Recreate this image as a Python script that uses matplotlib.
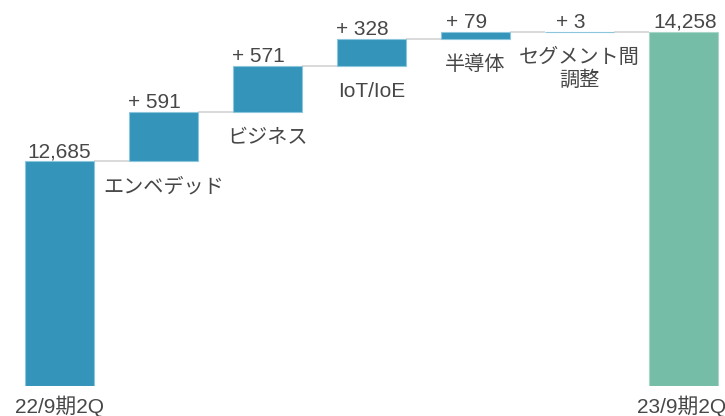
import matplotlib
matplotlib.use("Agg")
import matplotlib.pyplot as plt
from matplotlib.transforms import offset_copy

# Quarterly sales bridge (waterfall)
start_label = "22/9期2Q"
end_label = "23/9期2Q"
start_value = 12685
end_value = 14258
segments = ["エンベデッド", "ビジネス", "IoT/IoE", "半導体", "セグメント間\n調整"]
deltas = [591, 571, 328, 79, 3]

BLUE = "#3494ba"
BLUE_EDGE = "#8cc6dc"
GREEN = "#75bda7"
GREEN_EDGE = "#a8d6c8"
CONNECTOR = "#d9d9d9"
TEXT = "#474747"

LATIN = ["Liberation Sans", "Noto Sans CJK JP"]
CJK = ["Noto Sans CJK JP", "Liberation Sans"]

W, H, DPI = 725, 416, 100
fig = plt.figure(figsize=(W / DPI, H / DPI), dpi=DPI)
ax = fig.add_axes([0, 30 / H, 1, 386 / H])

floor = 9948
px_per_unit = 0.0822
ax.set_xlim(-0.572, 6.399)
ax.set_ylim(floor, floor + 386 / px_per_unit)
ax.axis("off")

bar_w = 0.663
n = len(deltas) + 2

# running totals
levels = [start_value]
for d in deltas:
    levels.append(levels[-1] + d)

# start / end totals
ax.bar(0, start_value - floor, bottom=floor, width=bar_w, color=BLUE,
       edgecolor=BLUE_EDGE, linewidth=0.8, zorder=3)
ax.bar(n - 1, end_value - floor, bottom=floor, width=bar_w, color=GREEN,
       edgecolor=GREEN_EDGE, linewidth=0.8, zorder=3)

# increments
for i, d in enumerate(deltas, start=1):
    ax.bar(i, d, bottom=levels[i - 1], width=bar_w, color=BLUE,
           edgecolor=BLUE_EDGE, linewidth=0.8, zorder=3)

# connectors between neighbouring bars
for i, lv in enumerate(levels):
    ax.plot([i + bar_w / 2, i + 1 - bar_w / 2], [lv, lv], color=CONNECTOR,
            lw=1.4, zorder=2, solid_capstyle="butt")


def shifted(dx_px, dy_px):
    return offset_copy(ax.transData, fig=fig, x=dx_px, y=dy_px, units="dots")


# value labels
ax.text(0, start_value, f"{start_value:,}", transform=shifted(0, 4),
        ha="center", va="baseline", fontsize=15, color=TEXT, family=LATIN)
ax.text(n - 1, end_value, f"{end_value:,}", transform=shifted(2, 4),
        ha="center", va="baseline", fontsize=15, color=TEXT, family=LATIN)
for i, d in enumerate(deltas, start=1):
    ax.text(i, levels[i], f"+ {d:,}", transform=shifted(-9, 4),
            ha="center", va="baseline", fontsize=15, color=TEXT, family=LATIN)

# segment names under each increment
for i, name in enumerate(segments, start=1):
    is_latin = name.isascii()
    ax.text(i, levels[i - 1], name, transform=shifted(0, -16 if is_latin else -15),
            ha="center", va="top", fontsize=15 if is_latin else 14.5,
            color=TEXT, family=LATIN if is_latin else CJK, linespacing=1.1)

# period labels under the totals
ax.text(0, floor, start_label, transform=shifted(0, -27), ha="center",
        va="baseline", fontsize=15, color=TEXT, family=LATIN)
ax.text(n - 1, floor, end_label, transform=shifted(-2, -27), ha="center",
        va="baseline", fontsize=15, color=TEXT, family=LATIN)

fig.savefig("out.png", dpi=DPI)
